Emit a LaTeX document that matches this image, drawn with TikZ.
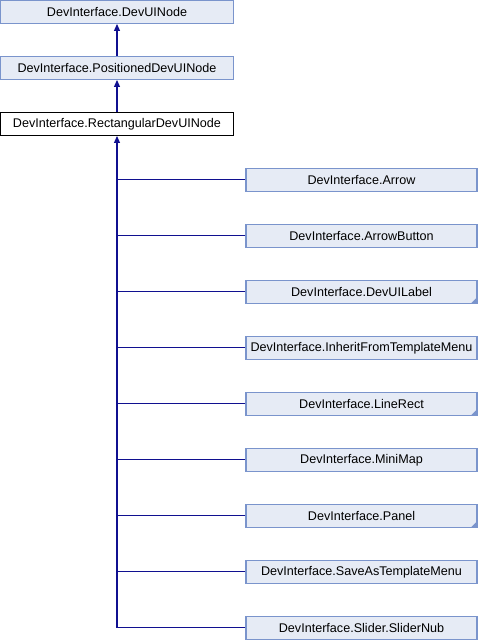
\documentclass[tikz,border=0pt]{standalone}
\usepackage{fontspec}
\setmainfont{Liberation Sans}
\usetikzlibrary{arrows.meta}
\definecolor{boxfill}{HTML}{E6EBF5}
\definecolor{boxline}{HTML}{7A94CC}
\definecolor{edgecol}{HTML}{101090}
\begin{document}
\begin{tikzpicture}[x=1pt,y=-1pt,
  cls/.style={draw=boxline, fill=boxfill, line width=1.3pt, minimum height=23pt,
    inner sep=0pt, font=\fontsize{12.6}{15}\selectfont},
  top/.style={cls, minimum width=233pt},
  child/.style={cls, minimum width=231pt},
  current/.style={top, draw=black, fill=white},
  edge/.style={draw=edgecol, line width=1.1pt},
  inherit/.style={edge, -{Triangle[length=7pt,width=6pt]}},
  folded/.style={path picture={\fill[boxline] (path picture bounding box.south east) -- ++(-6,0) -- ++(6,-6) -- cycle;}}]
\useasboundingbox (0,0) rectangle (480,640);
% base classes
\node[top] (base) at (117,11.8) {DevInterface.DevUINode};
\node[top] (pos) at (117,67.8) {DevInterface.PositionedDevUINode};
\node[current] (rect) at (117,123.8) {DevInterface.RectangularDevUINode};
\draw[inherit] (pos.north) -- (base.south);
\draw[inherit] (rect.north) -- (pos.south);
% derived classes
\node[child] (c1) at (361.5,179.8) {DevInterface.Arrow};
\node[child] (c2) at (361.5,235.8) {DevInterface.ArrowButton};
\node[child,folded] (c3) at (361.5,291.8) {DevInterface.DevUILabel};
\node[child] (c4) at (361.5,347.8) {DevInterface.InheritFromTemplateMenu};
\node[child,folded] (c5) at (361.5,403.8) {DevInterface.LineRect};
\node[child] (c6) at (361.5,459.8) {DevInterface.MiniMap};
\node[child,folded] (c7) at (361.5,515.8) {DevInterface.Panel};
\node[child] (c8) at (361.5,571.8) {DevInterface.SaveAsTemplateMenu};
\node[child] (c9) at (361.5,627.8) {DevInterface.Slider.SliderNub};
\draw[inherit] (c9.west) -| (rect.south);
\foreach \c in {c1,c2,c3,c4,c5,c6,c7,c8}
  \draw[edge] (\c.west) -- (\c.west -| rect.south);
\end{tikzpicture}
\end{document}
